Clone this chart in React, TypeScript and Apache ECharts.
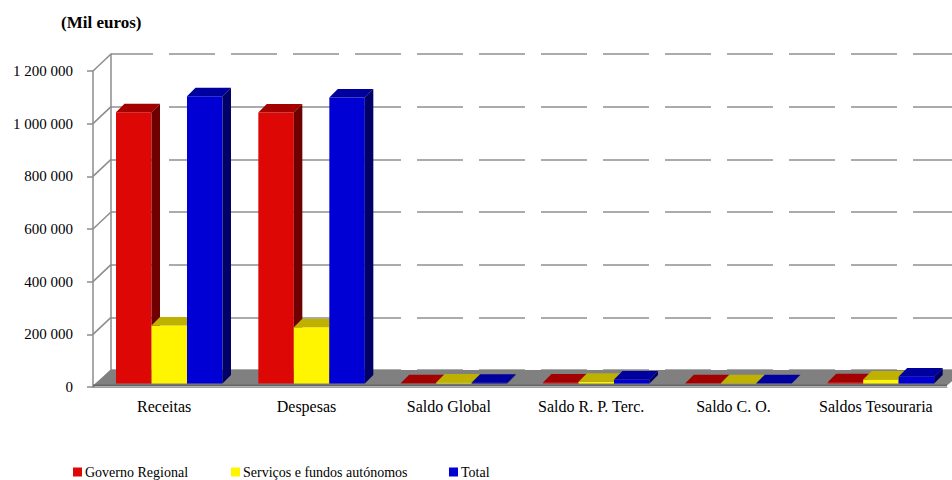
import React, { useEffect, useRef } from "react";
import * as echarts from "echarts";

const categories = ["Receitas", "Despesas", "Saldo Global", "Saldo R. P. Terc.", "Saldo C. O.", "Saldos Tesouraria"];
const governoRegional = [1030000, 1029000, 1000, 4000, 1000, 5000];
const servicosFundos = [220000, 214000, 4000, 7000, 1000, 15000];
const total = [1091000, 1086000, 3000, 15000, 1000, 27000];
const yTicks = [0, 200000, 400000, 600000, 800000, 1000000, 1200000];

const FONT = "Liberation Serif";
const WALL_DX = 18;
const WALL_DY = -17;
const BAR_FY = -3.5;
const BAR_DX = 8.5;
const BAR_DY = -8.5;
const BAR_W_FRAC = 0.2494;
const BAR_LEFT_FRAC = 0.3384;

const fmt = (v: number) => String(v).replace(/\B(?=(\d{3})+(?!\d))/g, " ");

function barSeries(name: string, data: number[], k: number, front: string, top: string, side: string) {
  return {
    type: "custom",
    name,
    xAxisIndex: 0,
    yAxisIndex: 0,
    z: 3 + k,
    itemStyle: { color: front },
    data: data.map((v, i) => [i, v]),
    renderItem: (params: any, api: any) => {
      const i = api.value(0);
      const v = Math.max(0, api.value(1));
      const base = api.coord([i, 0]);
      const tp = api.coord([i, v]);
      const bw = api.size([1, 0])[0];
      const w = bw * BAR_W_FRAC;
      const x0 = base[0] - bw * BAR_LEFT_FRAC + k * w;
      const x1 = x0 + w;
      const yb = base[1] + BAR_FY;
      const yt = tp[1] + BAR_FY;
      return {
        type: "group",
        children: [
          { type: "rect", shape: { x: x0, y: yt, width: w, height: yb - yt }, style: { fill: front } },
          {
            type: "polygon",
            shape: { points: [[x0, yt], [x1, yt], [x1 + BAR_DX, yt + BAR_DY], [x0 + BAR_DX, yt + BAR_DY]] },
            style: { fill: top },
          },
          {
            type: "polygon",
            shape: { points: [[x1, yt], [x1 + BAR_DX, yt + BAR_DY], [x1 + BAR_DX, yb + BAR_DY], [x1, yb]] },
            style: { fill: side },
          },
        ],
      };
    },
  };
}

export default function App() {
  const ref = useRef<HTMLDivElement>(null);
  useEffect(() => {
    if (!ref.current) return;
    const chart = echarts.init(ref.current, undefined, { renderer: "svg" });
    const legendBase = {
      top: 465,
      padding: 0,
      icon: "rect",
      itemWidth: 9,
      itemHeight: 9,
      itemGap: 0,
      selectedMode: false,
      textStyle: { fontFamily: FONT, fontSize: 14, color: "#000", padding: [0, 0, 0, -2] },
    };
    chart.setOption({
      animation: false,
      backgroundColor: "#fff",
      title: {
        text: "(Mil euros)",
        left: 56,
        top: 9,
        textStyle: { fontFamily: FONT, fontWeight: "bold", fontSize: 17, color: "#000" },
      },
      legend: [
        { ...legendBase, left: 73, data: ["Governo Regional"] },
        { ...legendBase, left: 231, data: ["Serviços e fundos autónomos"] },
        { ...legendBase, left: 449, data: ["Total"] },
      ],
      grid: [
        { left: 93, right: 5, top: 71, bottom: 93 },
        { left: 111, right: -13, top: 54, bottom: 110 },
      ],
      xAxis: [
        {
          type: "category",
          gridIndex: 0,
          data: categories,
          axisLine: { lineStyle: { color: "#a0a0a0", width: 1 } },
          axisTick: { length: 6, lineStyle: { color: "#a0a0a0" } },
          axisLabel: { interval: 0, fontFamily: FONT, fontSize: 16, color: "#000", margin: 11 },
          splitLine: { show: false },
        },
        { type: "value", gridIndex: 1, min: 0, max: 1, show: false },
      ],
      yAxis: [
        {
          type: "value",
          gridIndex: 0,
          min: 0,
          max: 1200000,
          interval: 200000,
          axisLine: { show: true, lineStyle: { color: "#8c8c8c", width: 1.5 } },
          axisTick: { show: true, length: 6, lineStyle: { color: "#8c8c8c", width: 1.5 } },
          axisLabel: { fontFamily: FONT, fontSize: 15, color: "#000", margin: 20, formatter: (v: number) => fmt(v) },
          splitLine: { show: false },
        },
        {
          type: "value",
          gridIndex: 1,
          min: 0,
          max: 1200000,
          interval: 200000,
          axisLine: { show: true, lineStyle: { color: "#8c8c8c", width: 1.5 } },
          axisTick: { show: false },
          axisLabel: { show: false },
          splitLine: {
            show: true,
            lineStyle: { color: "#ababab", width: 2, type: [46, 16], dashOffset: 4 },
          },
        },
      ],
      series: [
        {
          type: "custom",
          name: "sidewall",
          xAxisIndex: 0,
          yAxisIndex: 0,
          z: 1,
          silent: true,
          data: yTicks.map((v) => [0, v]),
          renderItem: (params: any, api: any) => {
            const cs = params.coordSys;
            const y = api.coord([0, api.value(1)])[1];
            return {
              type: "line",
              shape: { x1: cs.x, y1: y, x2: cs.x + WALL_DX, y2: y + WALL_DY },
              style: { stroke: "#8c8c8c", lineWidth: 1.5 },
            };
          },
        },
        {
          type: "custom",
          name: "floor",
          xAxisIndex: 0,
          yAxisIndex: 0,
          z: 2,
          silent: true,
          data: [[0, 0]],
          renderItem: (params: any, api: any) => {
            const cs = params.coordSys;
            const yb = api.coord([0, 0])[1];
            const xl = cs.x;
            const xr = cs.x + cs.width;
            return {
              type: "group",
              children: [
                {
                  type: "polygon",
                  shape: { points: [[xl, yb - 1.5], [xl + WALL_DX, yb + WALL_DY], [xr + WALL_DX, yb + WALL_DY], [xr, yb - 1.5]] },
                  style: { fill: "#808080" },
                },
                {
                  type: "rect",
                  shape: { x: xl, y: yb - 2.5, width: xr - xl, height: 2 },
                  style: { fill: "#666666" },
                },
              ],
            };
          },
        },
        barSeries("Governo Regional", governoRegional, 0, "#DD0806", "#A30000", "#6E0000"),
        barSeries("Serviços e fundos autónomos", servicosFundos, 1, "#FFF500", "#BFB100", "#7F7800"),
        barSeries("Total", total, 2, "#0000D4", "#00009E", "#000066"),
      ],
    });
    return () => chart.dispose();
  }, []);
  return <div ref={ref} style={{ position: "absolute", left: 0, top: 0, width: 952, height: 480 }} />;
}
